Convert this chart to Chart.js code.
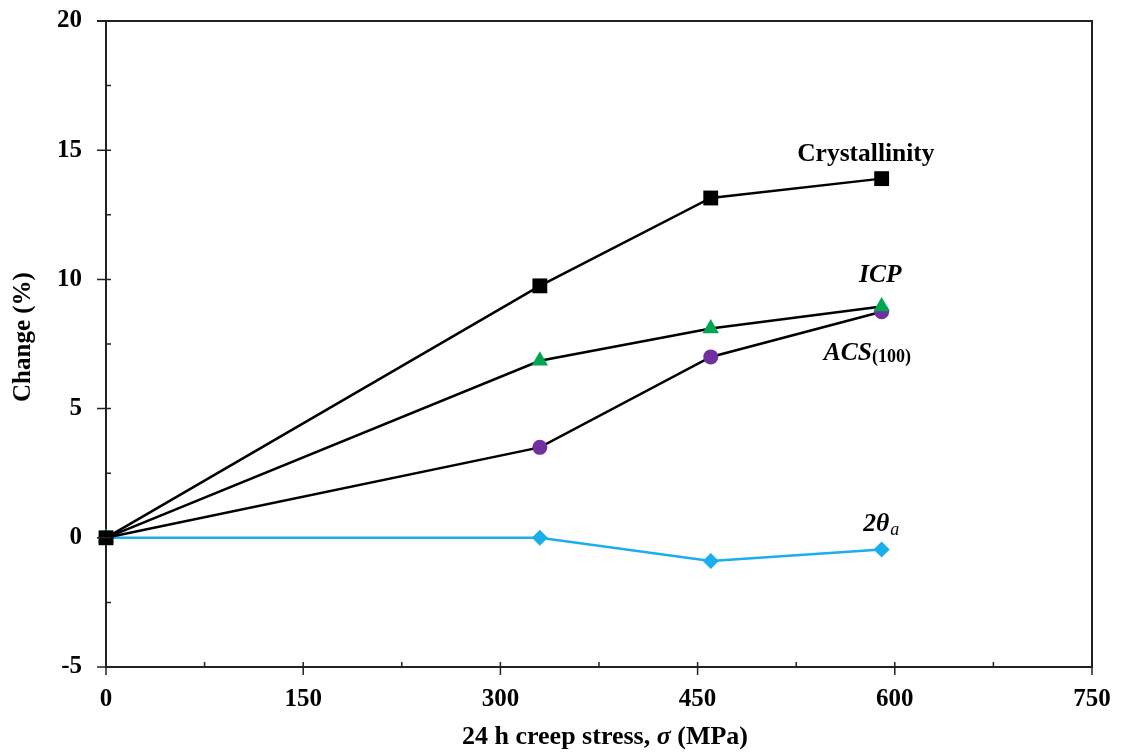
<!DOCTYPE html>
<html>
<head>
<meta charset="utf-8">
<script src="https://cdn.jsdelivr.net/npm/chart.js@4"></script>
<style>
  body { margin: 0; background: #fff; }
  #wrap { width: 1121px; height: 753px; }
</style>
</head>
<body>
<div id="wrap"><canvas id="creep-chart" width="1121" height="753"></canvas></div>
<script>
// data
const stress = [0, 330, 460, 590];
const crystallinity = [0, 9.75, 13.15, 13.9];
const icp = [0, 6.85, 8.1, 8.95];
const acs = [0, 3.5, 7.0, 8.75];
const twoTheta = [0, 0, -0.9, -0.45];

const xTicks = [0, 150, 300, 450, 600, 750];
const yTicks = [-5, 0, 5, 10, 15, 20];

// series labels placed in data units
const labelX = [578, 589, 546, 576];
const labelY = [14.85, 10.15, 7.12, 0.5];

const serif = '"Liberation Serif", "Times New Roman", serif';

function pts(ys) {
    return stress.map(function(x, i) { return { x: x, y: ys[i] }; });
}

// frame, minor/major tick marks, axis titles and series labels
const decorations = {
    id: 'decorations',
    afterDraw: function(chart) {
        const c = chart.ctx;
        const a = chart.chartArea;
        const xs = chart.scales.x;
        const ys = chart.scales.y;
        c.save();
        c.strokeStyle = '#222';
        c.lineWidth = 2;
        c.beginPath();
        c.moveTo(a.left - 9, a.top);
        c.lineTo(a.right, a.top);
        c.lineTo(a.right, a.bottom);
        c.stroke();

        c.lineWidth = 1.5;
        c.beginPath();
        yTicks.forEach(function(v) {
            const p = ys.getPixelForValue(v);
            c.moveTo(a.left - 9, p); c.lineTo(a.left + 5, p);
            if (v < 20) {
                const m = ys.getPixelForValue(v + 2.5);
                c.moveTo(a.left, m); c.lineTo(a.left + 5, m);
            }
        });
        xTicks.forEach(function(v) {
            const p = xs.getPixelForValue(v);
            c.moveTo(p, a.bottom + 8); c.lineTo(p, a.bottom - 5);
            if (v < 750) {
                const m = xs.getPixelForValue(v + 75);
                c.moveTo(m, a.bottom); c.lineTo(m, a.bottom - 5);
            }
        });
        c.stroke();

        c.fillStyle = '#000';
        c.textBaseline = 'middle';

        // x title with italic sigma
        const partA = '24 h creep stress, ';
        const partB = 'σ';
        const partC = ' (MPa)';
        c.font = 'bold 26px ' + serif;
        const wA = c.measureText(partA).width;
        const wC = c.measureText(partC).width;
        c.font = 'italic bold 26px ' + serif;
        const wB = c.measureText(partB).width;
        let tx = (a.left + a.right) / 2 - (wA + wB + wC) / 2 + 6;
        const ty = 737;
        c.textAlign = 'left';
        c.font = 'bold 26px ' + serif;
        c.fillText(partA, tx, ty);
        c.font = 'italic bold 26px ' + serif;
        c.fillText(partB, tx + wA, ty);
        c.font = 'bold 26px ' + serif;
        c.fillText(partC, tx + wA + wB, ty);

        // y title
        c.font = 'bold 25px ' + serif;
        c.save();
        c.translate(24, (a.top + a.bottom) / 2 - 7);
        c.rotate(-Math.PI / 2);
        c.textAlign = 'center';
        c.fillText('Change (%)', 0, 0);
        c.restore();

        // series labels
        let lx, ly;
        c.textAlign = 'center';
        c.font = 'bold 25.5px ' + serif;
        c.fillText('Crystallinity', xs.getPixelForValue(labelX[0]), ys.getPixelForValue(labelY[0]));

        c.font = 'italic bold 25.5px ' + serif;
        c.fillText('ICP', xs.getPixelForValue(labelX[1]), ys.getPixelForValue(labelY[1]));

        c.textAlign = 'left';
        lx = xs.getPixelForValue(labelX[2]);
        ly = ys.getPixelForValue(labelY[2]);
        c.font = 'italic bold 25.5px ' + serif;
        c.fillText('ACS', lx, ly);
        const wAcs = c.measureText('ACS').width;
        c.font = 'bold 18px ' + serif;
        c.fillText('(100)', lx + wAcs, ly + 4);

        lx = xs.getPixelForValue(labelX[3]);
        ly = ys.getPixelForValue(labelY[3]);
        c.font = 'italic bold 25.5px ' + serif;
        c.fillText('2θ', lx, ly);
        const wTh = c.measureText('2θ').width;
        c.font = 'italic 18px ' + serif;
        c.fillText('a', lx + wTh + 1, ly + 5);
        c.restore();
    }
};

const ctx = document.getElementById('creep-chart').getContext('2d');
const chart = new Chart(ctx, {
    type: 'line',
    data: {
        datasets: [
            {
                label: 'Crystallinity',
                data: pts(crystallinity),
                borderColor: '#000',
                backgroundColor: '#000',
                borderWidth: 2.5,
                pointStyle: 'rect',
                pointRadius: 10.5,
                pointBorderWidth: 0,
                clip: false
            },
            {
                label: 'ICP',
                data: pts(icp),
                borderColor: '#000',
                backgroundColor: '#00A651',
                pointBackgroundColor: '#00A651',
                borderWidth: 2.5,
                pointStyle: 'triangle',
                pointRadius: 9.5,
                pointBorderWidth: 0,
                clip: false
            },
            {
                label: 'ACS(100)',
                data: pts(acs),
                borderColor: '#000',
                backgroundColor: '#7030A0',
                pointBackgroundColor: '#7030A0',
                borderWidth: 2.5,
                pointStyle: 'circle',
                pointRadius: 7.5,
                pointBorderWidth: 0,
                clip: false
            },
            {
                label: '2θa',
                data: pts(twoTheta),
                borderColor: '#1AAEEC',
                backgroundColor: '#1AAEEC',
                borderWidth: 2.5,
                pointStyle: 'rectRot',
                pointRadius: 8,
                pointBorderWidth: 0,
                clip: false
            }
        ]
    },
    options: {
        responsive: false,
        animation: false,
        layout: { padding: { left: 0, right: 29, top: 21, bottom: 0 } },
        plugins: {
            legend: { display: false },
            tooltip: { enabled: false }
        },
        scales: {
            x: {
                type: 'linear',
                min: 0,
                max: 750,
                afterFit: function(s) {
                    s.height = 86;
                    s.paddingLeft = 0;
                    s.paddingRight = 0;
                },
                afterBuildTicks: function(s) { s.ticks = xTicks.map(function(v) { return { value: v }; }); },
                grid: { display: false, drawTicks: false, tickLength: 0 },
                border: { display: true, color: '#222', width: 2 },
                ticks: {
                    padding: 18,
                    color: '#000',
                    font: { family: serif, size: 25, weight: 'bold' }
                }
            },
            y: {
                type: 'linear',
                min: -5,
                max: 20,
                afterFit: function(s) {
                    s.width = 106;
                    s.paddingTop = 0;
                    s.paddingBottom = 0;
                },
                afterBuildTicks: function(s) { s.ticks = yTicks.map(function(v) { return { value: v }; }); },
                grid: { display: false, drawTicks: false, tickLength: 0 },
                border: { display: true, color: '#222', width: 2 },
                ticks: {
                    padding: 24,
                    color: '#000',
                    font: { family: serif, size: 25, weight: 'bold' }
                }
            }
        }
    },
    plugins: [decorations]
});
</script>
</body>
</html>
